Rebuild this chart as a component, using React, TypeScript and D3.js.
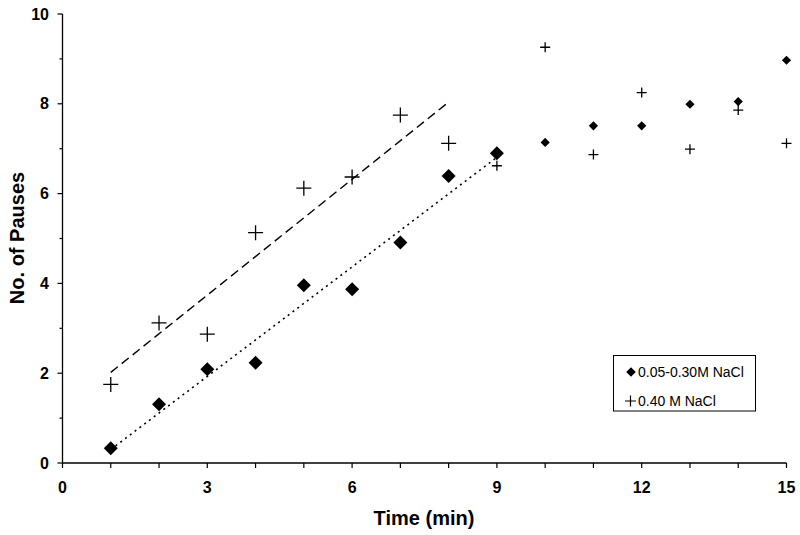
import React from "react";
import * as d3 from "d3";

const times = [1, 2, 3, 4, 5, 6, 7, 8, 9, 10, 11, 12, 13, 14, 15];
const lowSalt = [0.33, 1.31, 2.09, 2.23, 3.96, 3.87, 4.91, 6.39, 6.9, 7.14, 7.51, 7.51, 7.99, 8.05, 8.97];
const highSalt = [1.75, 3.12, 2.87, 5.13, 6.12, 6.37, 7.75, 7.12, 6.62, 9.26, 6.87, 8.25, 6.99, 7.86, 7.12];
const lowFitCount = 9; // points used in dotted trend line
const highFitCount = 8; // points used in dashed trend line
const xTicks = [0, 3, 6, 9, 12, 15];
const yTicks = [0, 2, 4, 6, 8, 10];
const legendLabels = ["0.05-0.30M NaCl", "0.40 M NaCl"];

const W = 800;
const H = 535;
const FONT = "Liberation Sans, Arial, sans-serif";

function fit(xs: number[], ys: number[]) {
  const mx = d3.mean(xs)!;
  const my = d3.mean(ys)!;
  let sxy = 0, sxx = 0;
  xs.forEach((x, i) => {
    sxy += (x - mx) * (ys[i] - my);
    sxx += (x - mx) * (x - mx);
  });
  const b = sxy / sxx;
  const a = my - b * mx;
  return (x: number) => a + b * x;
}

export default function App() {
  const x = d3.scaleLinear().domain([0, 15]).range([62.5, 786.5]);
  const y = d3.scaleLinear().domain([0, 10]).range([463, 14]);

  const lowX = times.slice(0, lowFitCount);
  const lowF = fit(lowX, lowSalt.slice(0, lowFitCount));
  const highX = times.slice(0, highFitCount);
  const highF = fit(highX, highSalt.slice(0, highFitCount));

  const lowLine = d3.line<number>().x((t) => x(t)).y((t) => y(lowF(t)))([lowX[0], lowX[lowX.length - 1]]);
  const highLine = d3.line<number>().x((t) => x(t)).y((t) => y(highF(t)))([highX[0], highX[highX.length - 1]]);

  const diamond = (cx: number, cy: number, r: number) =>
    `M${cx},${cy - r}L${cx + r},${cy}L${cx},${cy + r}L${cx - r},${cy}Z`;
  const plus = (cx: number, cy: number, r: number) =>
    `M${cx - r},${cy}H${cx + r}M${cx},${cy - r}V${cy + r}`;

  const xMinor = d3.range(0, 16, 1);
  const yMinor = d3.range(0, 11, 1);

  return (
    <svg width={W} height={H} style={{ position: "absolute", left: 0, top: 0, background: "#fff" }} fontFamily={FONT}>
      <rect x={0} y={0} width={W} height={H} fill="#fff" />
      {/* axes */}
      <line x1={x(0)} x2={x(15)} y1={y(0)} y2={y(0)} stroke="#000" strokeWidth={1.3} />
      <line x1={x(0)} x2={x(0)} y1={y(0)} y2={y(10)} stroke="#000" strokeWidth={1.3} />
      {xMinor.map((t) => (
        <line key={"xt" + t} x1={x(t)} x2={x(t)} y1={y(0)} y2={y(0) + 5} stroke="#000" strokeWidth={1.2} />
      ))}
      {yMinor.map((t) => (
        <line key={"yt" + t} x1={x(0) - (t % 2 === 0 ? 5 : 3)} x2={x(0)} y1={y(t)} y2={y(t)} stroke="#000" strokeWidth={1.2} />
      ))}
      {xTicks.map((t) => (
        <text key={"xl" + t} x={x(t)} y={493} textAnchor="middle" fontSize={16} fontWeight="bold">{t}</text>
      ))}
      {yTicks.map((t) => (
        <text key={"yl" + t} x={49} y={y(t) + 5.5} textAnchor="end" fontSize={16} fontWeight="bold">{t}</text>
      ))}
      <text x={424} y={525} textAnchor="middle" fontSize={20} fontWeight="bold">Time (min)</text>
      <text transform={`translate(24,${238}) rotate(-90)`} textAnchor="middle" fontSize={20} fontWeight="bold">No. of Pauses</text>

      {/* trend lines */}
      <path d={highLine!} stroke="#000" strokeWidth={1.4} strokeDasharray="9,5" fill="none" />
      <path d={lowLine!} stroke="#000" strokeWidth={1.6} strokeDasharray="2,4" fill="none" />

      {/* markers */}
      {times.map((t, i) => (
        <path key={"d" + t} d={diamond(x(t), y(lowSalt[i]), i < lowFitCount ? 7 : 4.6)} fill="#000" />
      ))}
      {times.map((t, i) => (
        <path key={"p" + t} d={plus(x(t), y(highSalt[i]), i < highFitCount ? 7.5 : 5)} stroke="#000" strokeWidth={1.3} fill="none" />
      ))}

      {/* legend */}
      <rect x={613.5} y={355.5} width={142} height={55.5} fill="#fff" stroke="#000" strokeWidth={1} />
      <path d={diamond(631, 372, 4.8)} fill="#000" />
      <text x={638} y={377} fontSize={14}>{legendLabels[0]}</text>
      <path d={plus(630.5, 401, 5.5)} stroke="#000" strokeWidth={1.2} fill="none" />
      <text x={638} y={406} fontSize={14}>{legendLabels[1]}</text>
    </svg>
  );
}
